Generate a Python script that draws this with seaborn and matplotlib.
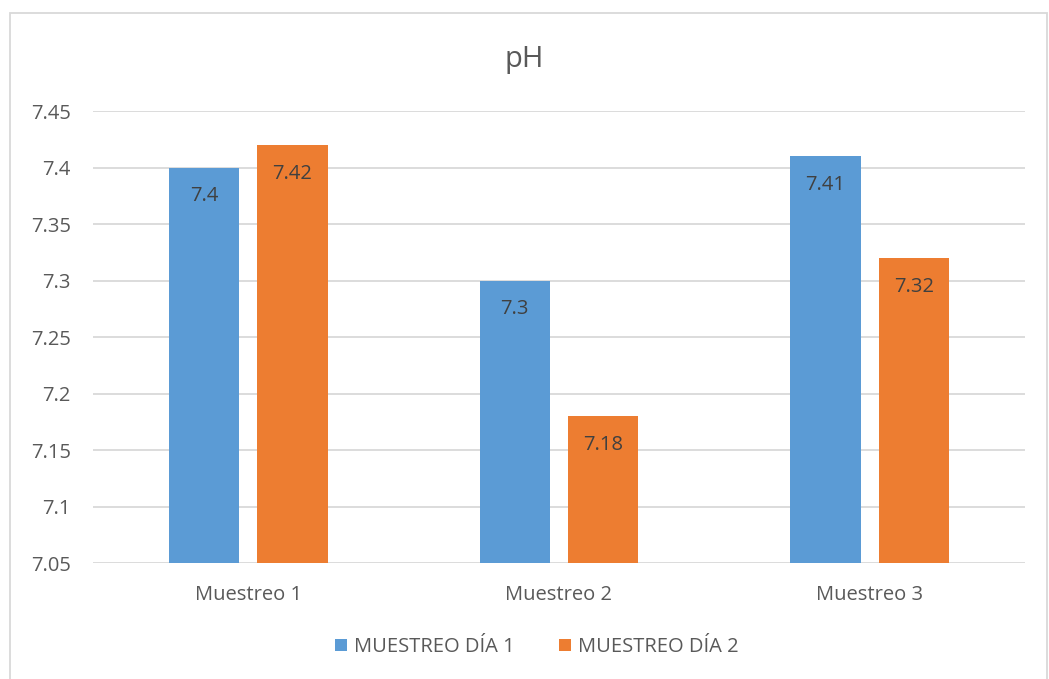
import pandas as pd
import seaborn as sns
from matplotlib import pyplot as plt
from matplotlib.patches import Rectangle

sns.set_theme(style='white')
plt.rcParams['font.family'] = ['Open Sans', 'DejaVu Sans']

#values
muestreos = ['Muestreo 1', 'Muestreo 2', 'Muestreo 3']
dia1 = [7.40, 7.30, 7.41]
dia2 = [7.42, 7.18, 7.32]
series = ['MUESTREO DÍA 1', 'MUESTREO DÍA 2']
yticks = [7.05, 7.1, 7.15, 7.2, 7.25, 7.3, 7.35, 7.4, 7.45]
ytick_labels = ['7.05', '7.1', '7.15', '7.2', '7.25', '7.3', '7.35', '7.4', '7.45']

df = pd.DataFrame({
	'Muestreo': muestreos * 2,
	'Serie': [series[0]] * 3 + [series[1]] * 3,
	'pH': dia1 + dia2,
})

txt = '#595959'
fig = plt.figure(figsize=(10.49, 6.79), dpi=100)
ax = fig.add_axes([0.0887, 0.1708, 0.977 - 0.0887, 0.8365 - 0.1708])

sns.barplot(data=df, x='Muestreo', y='pH', hue='Serie', palette=['#5B9BD5', '#ED7D31'],
	width=0.568, gap=0.205, saturation=1, linewidth=0, ax=ax, legend=True)

ax.set_ylim(7.05, 7.45)
ax.set_xlim(-0.5, 2.5)
ax.set_yticks(yticks)
ax.set_yticklabels(ytick_labels)
ax.yaxis.grid(True, color='#D9D9D9', linewidth=1.3)
ax.set_axisbelow(True)
for s in ax.spines.values():
	s.set_visible(False)
ax.tick_params(axis='y', length=0, pad=16, labelsize=14.5, labelcolor=txt)
ax.tick_params(axis='x', length=0, pad=16, labelsize=14.5, labelcolor=txt)
ax.set_xlabel('')
ax.set_ylabel('')

for cont in ax.containers:
	ax.bar_label(cont, fmt='%g', padding=-28, fontsize=14.5, color='#404040')

fig.text(0.5, 1 - 60 / 679, 'pH', ha='center', va='center', fontsize=21, color=txt)

handles, labels = ax.get_legend_handles_labels()
ax.get_legend().remove()
fig.legend(handles, labels, loc='center', bbox_to_anchor=(537 / 1049, 1 - 647 / 679), ncol=2,
	frameon=False, fontsize=14.5, labelcolor=txt, handlelength=0.6, handleheight=0.6,
	handletextpad=0.35, columnspacing=2.2)

fig.patches.append(Rectangle((10 / 1049, -0.01), 1037 / 1049, 1 - 13 / 679 + 0.01,
	transform=fig.transFigure, fill=False, edgecolor='#D9D9D9', linewidth=1.3))

plt.savefig('out.png', dpi=100)
